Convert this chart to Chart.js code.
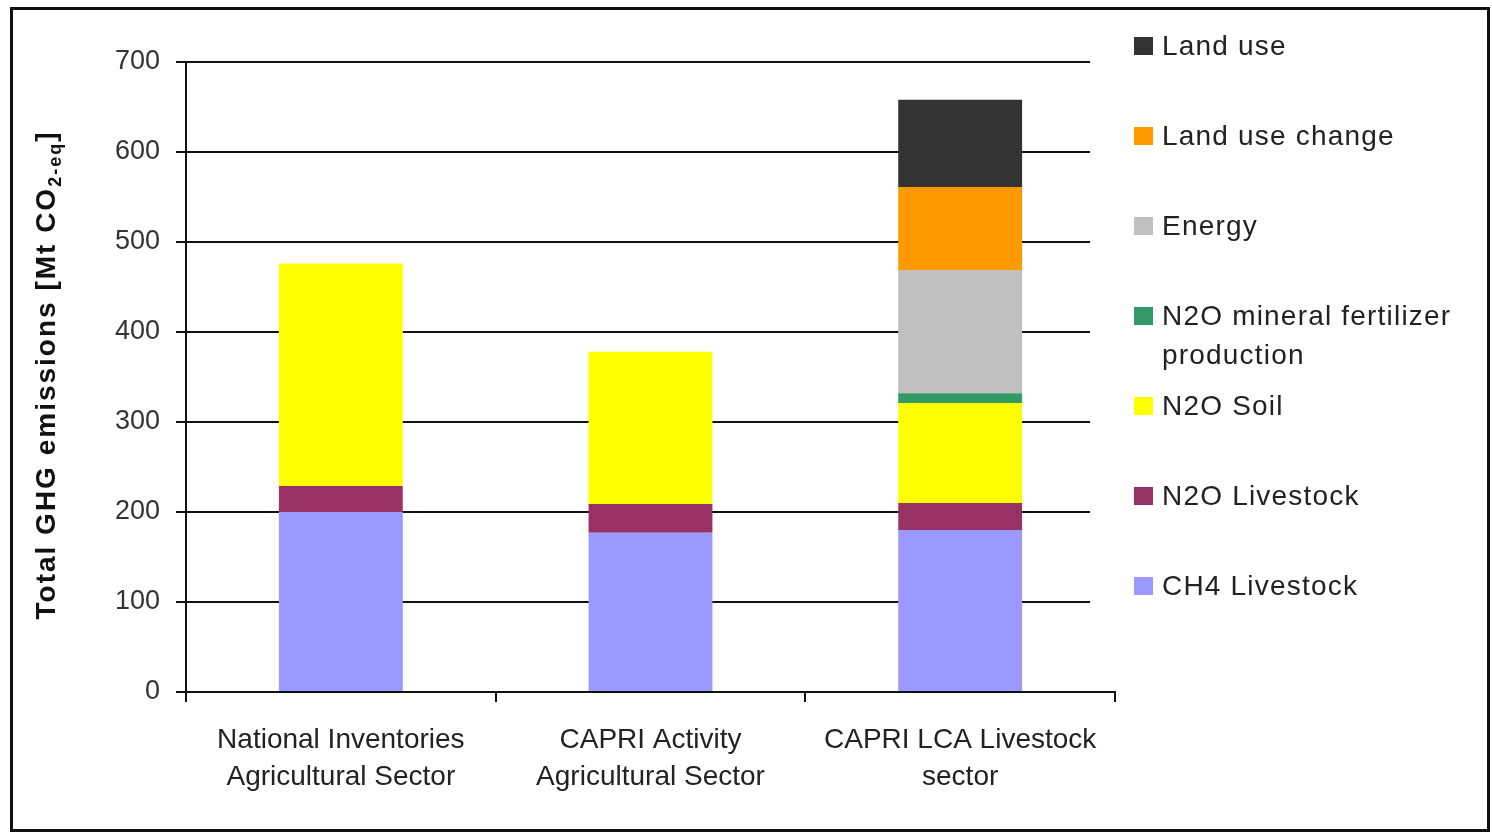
<!DOCTYPE html>
<html>
<head>
<meta charset="utf-8">
<script src="https://cdn.jsdelivr.net/npm/chart.js@4.4.0/dist/chart.umd.min.js"></script>
<style>
  html, body { margin: 0; padding: 0; background: #fff; }
  #wrap { width: 1492px; height: 835px; position: relative; }
</style>
</head>
<body>
<div id="wrap"><canvas id="chart"></canvas></div>
<script>
// emissions per source, Mt CO2-eq
const categories = [
  ['National Inventories', 'Agricultural Sector'],
  ['CAPRI Activity', 'Agricultural Sector'],
  ['CAPRI LCA Livestock', 'sector']
];
const ch4Livestock  = [200, 177, 180];
const n2oLivestock  = [29, 32, 30];
const n2oSoil       = [247, 169, 111];
const n2oFertilizer = [0, 0, 11];
const energy        = [0, 0, 137];
const landUseChange = [0, 0, 92];
const landUse       = [0, 0, 97];
const yTicks = [0, 100, 200, 300, 400, 500, 600, 700];

const FONT = "'Liberation Sans', Arial, sans-serif";
const INK = '#222';

const series = [
  {label: 'CH4 Livestock', data: ch4Livestock, color: '#9999ff'},
  {label: 'N2O Livestock', data: n2oLivestock, color: '#993366'},
  {label: 'N2O Soil', data: n2oSoil, color: '#ffff00'},
  {label: 'N2O mineral fertilizer production', data: n2oFertilizer, color: '#339966'},
  {label: 'Energy', data: energy, color: '#c0c0c0'},
  {label: 'Land use change', data: landUseChange, color: '#ff9900'},
  {label: 'Land use', data: landUse, color: '#333333'}
];

// rotated y title with subscript, drawn by hand
const axisTitle = {
  id: 'axisTitle',
  afterDraw(chart) {
    const ctx = chart.ctx;
    const area = chart.chartArea;
    const parts = [
      {t: 'Total GHG emissions [Mt CO', size: 28, dy: 0},
      {t: '2-eq', size: 18, dy: 6},
      {t: ']', size: 28, dy: 0}
    ];
    ctx.save();
    ctx.translate(55, (area.top + area.bottom) / 2 - 2);
    ctx.rotate(-Math.PI / 2);
    ctx.fillStyle = '#111';
    ctx.textBaseline = 'alphabetic';
    ctx.textAlign = 'left';
    ctx.letterSpacing = '2px';
    let total = 0;
    parts.forEach(p => {
      ctx.font = `bold ${p.size}px ${FONT}`;
      p.w = ctx.measureText(p.t).width;
      total += p.w;
    });
    let x = -total / 2;
    parts.forEach(p => {
      ctx.font = `bold ${p.size}px ${FONT}`;
      ctx.fillText(p.t, x, p.dy);
      x += p.w;
    });
    ctx.restore();
  }
};

// legend box on the right, top item = top of the stack
const sideLegend = {
  id: 'sideLegend',
  afterDraw(chart) {
    const ctx = chart.ctx;
    ctx.save();
    ctx.fillStyle = '#fff';
    ctx.fillRect(1090, 14, 398, 626);
    ctx.font = `28px ${FONT}`;
    ctx.letterSpacing = '1.2px';
    ctx.textBaseline = 'alphabetic';
    ctx.textAlign = 'left';
    const items = chart.data.datasets.slice().reverse();
    items.forEach((ds, i) => {
      const base = 55 + i * 90;
      ctx.fillStyle = ds.backgroundColor;
      ctx.fillRect(1134, base - 18, 19, 18);
      ctx.fillStyle = INK;
      // wrap long labels
      const words = ds.label.split(' ');
      const lines = [];
      let line = '';
      words.forEach(w => {
        const test = line ? line + ' ' + w : w;
        if (ctx.measureText(test).width > 300 && line) {
          lines.push(line);
          line = w;
        } else {
          line = test;
        }
      });
      lines.push(line);
      lines.forEach((l, j) => ctx.fillText(l, 1162, base + j * 39));
    });
    ctx.restore();
  }
};

const frame = {
  id: 'frame',
  beforeDraw(chart) {
    const ctx = chart.ctx;
    ctx.save();
    ctx.fillStyle = '#fff';
    ctx.fillRect(0, 0, chart.width, chart.height);
    ctx.restore();
  },
  afterDraw(chart) {
    const ctx = chart.ctx;
    ctx.save();
    ctx.strokeStyle = '#111';
    ctx.lineWidth = 3;
    ctx.strokeRect(11.5, 8.5, 1477, 822);
    ctx.restore();
  }
};

new Chart(document.getElementById('chart'), {
  type: 'bar',
  data: {
    labels: categories,
    datasets: series.map(s => ({
      label: s.label,
      data: s.data,
      backgroundColor: s.color,
      borderWidth: 0,
      barPercentage: 0.4,
      categoryPercentage: 1.0
    }))
  },
  options: {
    responsive: true,
    maintainAspectRatio: false,
    animation: false,
    layout: {padding: {top: 62, right: 377, bottom: 0, left: 0}},
    plugins: {
      legend: {display: false},
      tooltip: {enabled: false}
    },
    scales: {
      x: {
        stacked: true,
        afterFit(scale) { scale.height = 143; },
        grid: {
          display: true,
          drawOnChartArea: false,
          offset: true,
          drawTicks: true,
          tickLength: 10,
          color: '#111',
          lineWidth: 2
        },
        border: {display: true, color: '#111', width: 2},
        ticks: {
          color: INK,
          padding: 20,
          font: {family: FONT, size: 28, lineHeight: 1.32},
          maxRotation: 0,
          autoSkip: false
        }
      },
      y: {
        stacked: true,
        min: 0,
        max: 700,
        afterFit(scale) { scale.width = 186; },
        afterBuildTicks(scale) { scale.ticks = yTicks.map(v => ({value: v})); },
        grid: {
          color: '#111',
          lineWidth: 2,
          drawTicks: true,
          tickLength: 10
        },
        border: {display: true, color: '#111', width: 2},
        ticks: {
          color: '#333',
          padding: 16,
          font: {family: FONT, size: 27}
        }
      }
    }
  },
  plugins: [axisTitle, sideLegend, frame]
});
</script>
</body>
</html>
